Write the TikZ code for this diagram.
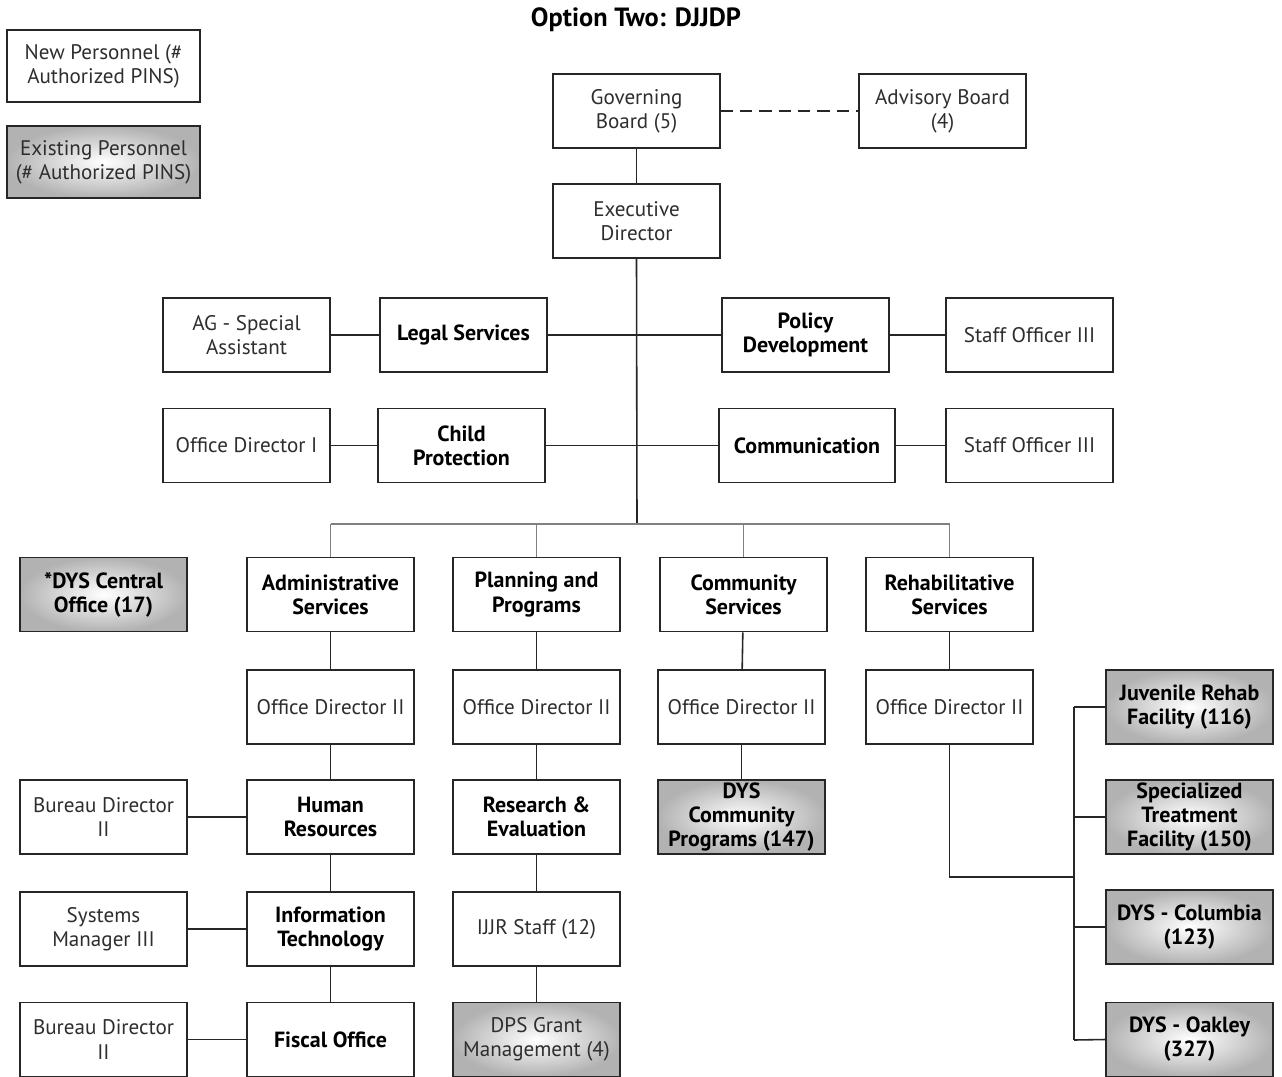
\documentclass[tikz,border=0pt]{standalone}
\usepackage{fontspec}
\setmainfont{PT Sans}
\usetikzlibrary{calc}
\newcommand{\boxfont}{\fontsize{12}{13.7}\selectfont}
\newcommand{\boldboxfont}{\fontsize{12.5}{13.7}\selectfont\bfseries}
\tikzset{
  orgbox/.style={draw=black!85, line width=0.9pt, fill=white,
    minimum width=3.34cm, minimum height=1.48cm, inner sep=1pt,
    align=center, font=\boxfont, text=black!82},
  boldbox/.style={orgbox, font=\boldboxfont, text=black},
  oldbox/.style={orgbox, inner color=white, outer color=black!30},
  oldboldbox/.style={oldbox, font=\boldboxfont, text=black},
  link/.style={draw=black!85, line width=0.9pt},
  buslink/.style={draw=black!50, line width=0.9pt},
}
\begin{document}
\begin{tikzpicture}[x=0.02cm, y=-0.02cm]
\useasboundingbox (0,0) rectangle (1282,1076);

% title
\node[font=\fontsize{15}{17}\selectfont\bfseries] (title) at (636,20) {Option Two: DJJDP};

% legend
\node[orgbox, minimum width=3.86cm, minimum height=1.44cm] (lgnew) at (103.5,66) {New Personnel (\#\\Authorized PINS)};
\node[oldbox, minimum width=3.86cm, minimum height=1.44cm] (lgold) at (103.5,162) {Existing Personnel\\(\# Authorized PINS)};

% board and director
\node[orgbox] (gov) at (636.5,111) {Governing\\Board (5)};
\node[orgbox] (adv) at (942.5,111) {Advisory Board\\(4)};
\node[orgbox] (exec) at (636.5,221) {Executive\\Director};

% staff offices
\node[orgbox] (ag) at (246.5,335) {AG - Special\\Assistant};
\node[boldbox] (legal) at (463.5,335) {Legal Services};
\node[boldbox] (policy) at (805.5,335) {Policy\\Development};
\node[orgbox] (soA) at (1029.5,335) {Staff Officer III};
\node[orgbox] (odI) at (246.5,445.5) {Office Director I};
\node[boldbox] (child) at (461.5,445.5) {Child\\Protection};
\node[boldbox, minimum width=3.52cm] (comm) at (807,445.5) {Communication};
\node[orgbox] (soB) at (1029.5,445.5) {Staff Officer III};

% divisions
\node[oldboldbox] (central) at (103.5,594.5) {*DYS Central\\Office (17)};
\node[boldbox] (admin) at (330.5,594.5) {Administrative\\Services};
\node[boldbox] (plan) at (536.5,594.5) {Planning and\\Programs};
\node[boldbox] (cserv) at (743.5,594.5) {Community\\Services};
\node[boldbox] (rehab) at (949.5,594.5) {Rehabilitative\\Services};

% office directors
\node[orgbox] (odA) at (330.5,707) {Office Director II};
\node[orgbox] (odB) at (536.5,707) {Office Director II};
\node[orgbox] (odC) at (741.5,707) {Office Director II};
\node[orgbox] (odD) at (949.5,707) {Office Director II};

% administrative services units
\node[orgbox] (bdA) at (103.5,817) {Bureau Director\\II};
\node[boldbox] (hr) at (330.5,817) {Human\\Resources};
\node[orgbox] (sysm) at (103.5,929) {Systems\\Manager III};
\node[boldbox] (it) at (330.5,929) {Information\\Technology};
\node[orgbox] (bdB) at (103.5,1039.5) {Bureau Director\\II};
\node[boldbox] (fiscal) at (330.5,1039.5) {Fiscal Office};

% planning and programs units
\node[boldbox] (research) at (536.5,817) {Research \&\\Evaluation};
\node[orgbox] (ijjr) at (536.5,929) {IJJR Staff (12)};
\node[oldbox] (dps) at (536.5,1039.5) {DPS Grant\\Management (4)};

% community services unit
\node[oldboldbox] (dyscp) at (741.5,817) {DYS\\Community\\Programs (147)};

% facilities
\node[oldboldbox] (juv) at (1189.5,707) {Juvenile Rehab\\Facility (116)};
\node[oldboldbox] (stf) at (1189.5,817) {Specialized\\Treatment\\Facility (150)};
\node[oldboldbox] (col) at (1189.5,927) {DYS - Columbia\\(123)};
\node[oldboldbox] (oak) at (1189.5,1039.5) {DYS - Oakley\\(327)};

% connectors
\coordinate (bus) at (637,524);
\coordinate (spineTop) at (1074,707);
\coordinate (spineBot) at (1074,1040);
\coordinate (rehabTurn) at (949.5,877);
\coordinate (rehabJoin) at (1074,877);

\draw[link, dashed, dash pattern=on 7pt off 4pt] (gov.east) -- (adv.west);
\draw[link] (gov) -- (exec);
\draw[link] (exec.south) -- (bus);
\draw[link] (legal.east) -- (policy.west);
\draw[link] (ag) -- (legal);
\draw[link] (policy) -- (soA);
\draw[link] (odI) -- (child);
\draw[link] (child.east) -- (comm.west);
\draw[link] (comm) -- (soB);

\draw[buslink] (admin.north |- bus) -- (rehab.north |- bus);
\draw[buslink] (admin.north) -- (admin.north |- bus);
\draw[buslink] (plan.north) -- (plan.north |- bus);
\draw[buslink] (cserv.north) -- (cserv.north |- bus);
\draw[buslink] (rehab.north) -- (rehab.north |- bus);

\draw[link] (admin) -- (odA);
\draw[link] (odA) -- (hr);
\draw[link] (hr) -- (it);
\draw[link] (it) -- (fiscal);
\draw[link] (bdA) -- (hr);
\draw[link] (sysm) -- (it);
\draw[link] (bdB) -- (fiscal);

\draw[link] (plan) -- (odB);
\draw[link] (odB) -- (research);
\draw[link] (research) -- (ijjr);
\draw[link] (ijjr) -- (dps);

\draw[link] (cserv) -- (odC);
\draw[link] (odC) -- (dyscp);

\draw[link] (rehab) -- (odD);
\draw[link] (odD.south) -- (rehabTurn) -- (rehabJoin);
\draw[link] (spineTop) -- (spineBot);
\draw[link] (spineTop) -- (juv.west);
\draw[link] (spineTop |- stf.west) -- (stf.west);
\draw[link] (spineTop |- col.west) -- (col.west);
\draw[link] (spineBot) -- (oak.west);
\end{tikzpicture}
\end{document}
